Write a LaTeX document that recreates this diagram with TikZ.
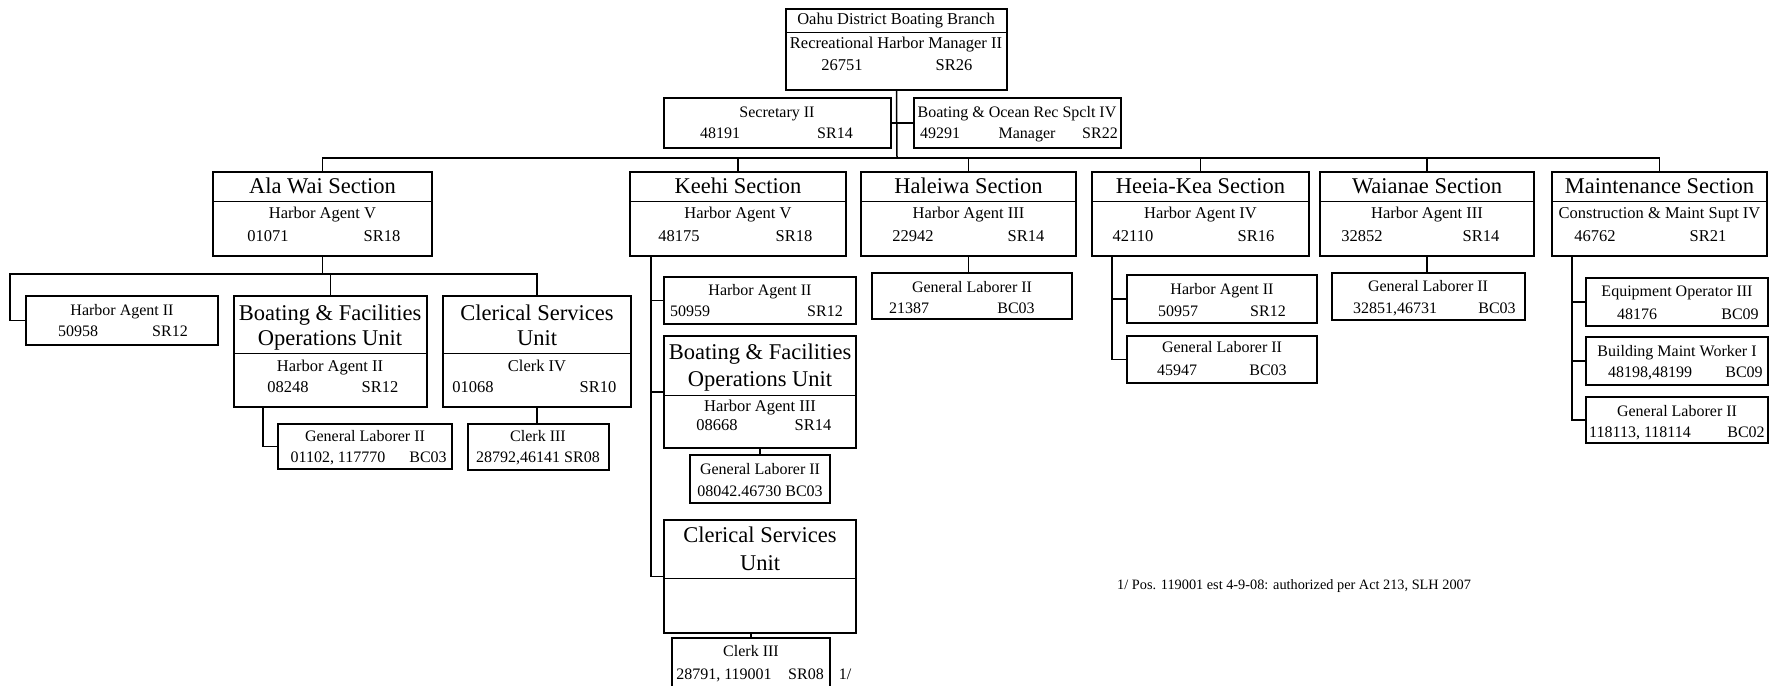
\documentclass[tikz,border=0pt]{standalone}
\usepackage{fontspec}
\setmainfont{Liberation Serif}
\tikzset{
  box/.style={draw, line width=1.8pt, inner sep=0pt, outer sep=0pt},
  conn/.style={line width=1.5pt},
  sepline/.style={line width=1pt},
  tl/.style={font=\fontsize{22.5}{24}\selectfont, inner sep=0pt, text height=16pt, text depth=5pt},
  md/.style={font=\fontsize{16.5}{18}\selectfont, inner sep=0pt, text height=12pt, text depth=3.5pt},
  sm/.style={font=\fontsize{16}{18}\selectfont, inner sep=0pt, text height=11.5pt, text depth=3.5pt},
  fnote/.style={font=\fontsize{14.3}{16}\selectfont, inner sep=0pt, anchor=west}
}
\newcommand\bx[5]{\node[box, minimum width={#4-#2}, minimum height={#5-#3}] (#1) at ({(#2+#4)/2},{(#3+#5)/2}) {};}
\newcommand\sepl[2]{\draw[sepline] (#1.west |- 0,#2) -- (#1.east |- 0,#2);}
\begin{document}
\begin{tikzpicture}[x=1pt,y=-1pt]
\useasboundingbox (0,0) rectangle (1771,685);
\fill[white] (0,0) rectangle (1771,685);
\clip (0,0) rectangle (1771,685);

% ---------- top ----------
\bx{top}{786}{9}{1007}{90}
\sepl{top}{33}
\node[md] (top-a) at (896,20) {Oahu District Boating Branch};
\node[md] (top-b) at (896,44) {Recreational Harbor Manager II};
\node[md] (top-c) at (842,66) {26751};
\node[md] (top-d) at (954,66) {SR26};

\bx{sec}{664}{98}{891}{148}
\node[sm] (sec-a) at (777,113) {Secretary II};
\node[sm] (sec-b) at (720,134) {48191};
\node[sm] (sec-c) at (835,134) {SR14};

\bx{bor}{914}{98}{1121}{148}
\node[sm] (bor-a) at (1017,113) {Boating \& Ocean Rec Spclt IV};
\node[sm] (bor-b) at (940,134) {49291};
\node[sm] (bor-c) at (1027,134) {Manager};
\node[sm] (bor-d) at (1100,134) {SR22};

% ---------- sections ----------
\bx{aw}{213}{172}{432}{256}
\bx{kh}{630}{172}{846}{256}
\bx{hl}{861}{172}{1076}{256}
\bx{hk}{1092}{172}{1309}{256}
\bx{wn}{1320}{172}{1534}{256}
\bx{mt}{1552}{172}{1767}{256}
\foreach \n in {aw,kh,hl,hk,wn,mt} {\sepl{\n}{201}}

\node[tl] (aw-a) at (aw.north |- 0,188) {Ala Wai Section};
\node[md] (aw-b) at (aw.north |- 0,214) {Harbor Agent V};
\node[md] (aw-c) at (268,237) {01071};
\node[md] (aw-d) at (382,237) {SR18};

\node[tl] (kh-a) at (kh.north |- 0,188) {Keehi Section};
\node[md] (kh-b) at (kh.north |- 0,214) {Harbor Agent V};
\node[md] (kh-c) at (679,237) {48175};
\node[md] (kh-d) at (794,237) {SR18};

\node[tl] (hl-a) at (hl.north |- 0,188) {Haleiwa Section};
\node[md] (hl-b) at (hl.north |- 0,214) {Harbor Agent III};
\node[md] (hl-c) at (913,237) {22942};
\node[md] (hl-d) at (1026,237) {SR14};

\node[tl] (hk-a) at (hk.north |- 0,188) {Heeia-Kea Section};
\node[md] (hk-b) at (hk.north |- 0,214) {Harbor Agent IV};
\node[md] (hk-c) at (1133,237) {42110};
\node[md] (hk-d) at (1256,237) {SR16};

\node[tl] (wn-a) at (wn.north |- 0,188) {Waianae Section};
\node[md] (wn-b) at (wn.north |- 0,214) {Harbor Agent III};
\node[md] (wn-c) at (1362,237) {32852};
\node[md] (wn-d) at (1481,237) {SR14};

\node[tl] (mt-a) at (mt.north |- 0,188) {Maintenance Section};
\node[md] (mt-b) at (mt.north |- 0,214) {Construction \& Maint Supt IV};
\node[md] (mt-c) at (1595,237) {46762};
\node[md] (mt-d) at (1708,237) {SR21};

% ---------- Ala Wai subtree ----------
\bx{awha}{26}{296}{218}{345}
\node[sm] (awha-a) at (122,311) {Harbor Agent II};
\node[sm] (awha-b) at (78,332) {50958};
\node[sm] (awha-c) at (170,332) {SR12};

\bx{awbo}{234}{296}{427}{407}
\sepl{awbo}{353}
\node[tl] (awbo-a) at (330,315) {Boating \& Facilities};
\node[tl] (awbo-b) at (330,340) {Operations Unit};
\node[md] (awbo-c) at (330,367) {Harbor Agent II};
\node[md] (awbo-d) at (288,388) {08248};
\node[md] (awbo-e) at (380,388) {SR12};

\bx{awcl}{443}{296}{631}{407}
\sepl{awcl}{353}
\node[tl] (awcl-a) at (537,315) {Clerical Services};
\node[tl] (awcl-b) at (537,340) {Unit};
\node[md] (awcl-c) at (537,367) {Clerk IV};
\node[md] (awcl-d) at (473,388) {01068};
\node[md] (awcl-e) at (598,388) {SR10};

\bx{awgl}{278}{424}{452}{469}
\node[sm] (awgl-a) at (365,437) {General Laborer II};
\node[sm] (awgl-b) at (338,458) {01102, 117770};
\node[sm] (awgl-c) at (428,458) {BC03};

\bx{awc3}{468}{424}{609}{470}
\node[sm] (awc3-a) at (538,437) {Clerk III};
\node[sm] (awc3-b) at (538,458) {28792,46141 SR08};

\coordinate (awL) at (10,274);
\draw[conn] (aw.south) -- (aw.south |- awL);
\draw[conn] (awha.west) -| (awL) -| (awcl.north);
\draw[conn] (awbo.north) -- (awbo.north |- awL);
\coordinate (awglc) at (263,407);
\draw[conn] (awglc) |- (awgl.west);
\draw[conn] (awcl.south) -- (awcl.south |- awc3.north);

% ---------- Keehi subtree ----------
\bx{khha}{664}{277}{856}{324}
\node[sm] (khha-a) at (760,291) {Harbor Agent II};
\node[sm] (khha-b) at (690,312) {50959};
\node[sm] (khha-c) at (825,312) {SR12};

\bx{khbo}{664}{336}{856}{448}
\sepl{khbo}{395}
\node[tl] (khbo-a) at (760,354) {Boating \& Facilities};
\node[tl] (khbo-b) at (760,381) {Operations Unit};
\node[md] (khbo-c) at (760,407) {Harbor Agent III};
\node[md] (khbo-d) at (717,426) {08668};
\node[md] (khbo-e) at (813,426) {SR14};

\bx{khgl}{690}{455}{830}{503}
\node[sm] (khgl-a) at (760,470) {General Laborer II};
\node[sm] (khgl-b) at (760,492) {08042.46730 BC03};

\bx{khcl}{664}{520}{856}{633}
\sepl{khcl}{578}
\node[tl] (khcl-a) at (760,537) {Clerical Services};
\node[tl] (khcl-b) at (760,565) {Unit};

\bx{khc3}{672}{638}{830}{695}
\node[sm] (khc3-a) at (751,652) {Clerk III};
\node[sm] (khc3-b) at (724,675) {28791, 119001};
\node[sm] (khc3-c) at (806,675) {SR08};
\node[sm] (khc3-n) at (845,675) {1/};

\coordinate (khv) at (651,256);
\draw[conn] (khv) |- (khcl.west);
\draw[conn] (khha.west) -- (khha.west -| khv);
\draw[conn] (khbo.west) -- (khbo.west -| khv);
\draw[conn] (khgl.north) -- (khgl.north |- khbo.south);
\draw[conn] (khc3.north) -- (khc3.north |- khcl.south);

% ---------- Haleiwa ----------
\bx{hlgl}{872}{273}{1072}{319}
\node[sm] (hlgl-a) at (972,288) {General Laborer II};
\node[sm] (hlgl-b) at (909,309) {21387};
\node[sm] (hlgl-c) at (1016,309) {BC03};
\draw[conn] (hl.south) -- (hl.south |- hlgl.north);

% ---------- Heeia-Kea ----------
\bx{hkha}{1127}{275}{1317}{323}
\node[sm] (hkha-a) at (1222,290) {Harbor Agent II};
\node[sm] (hkha-b) at (1178,312) {50957};
\node[sm] (hkha-c) at (1268,312) {SR12};

\bx{hkgl}{1127}{336}{1317}{383}
\node[sm] (hkgl-a) at (1222,348) {General Laborer II};
\node[sm] (hkgl-b) at (1177,371) {45947};
\node[sm] (hkgl-c) at (1268,371) {BC03};

\coordinate (hkv) at (1112,256);
\draw[conn] (hkv) |- (hkgl.west);
\draw[conn] (hkha.west) -- (hkha.west -| hkv);

% ---------- Waianae ----------
\bx{wngl}{1332}{273}{1525}{320}
\node[sm] (wngl-a) at (1428,287) {General Laborer II};
\node[sm] (wngl-b) at (1395,309) {32851,46731};
\node[sm] (wngl-c) at (1497,309) {BC03};
\draw[conn] (wn.south) -- (wn.south |- wngl.north);

% ---------- Maintenance ----------
\bx{mteo}{1586}{278}{1768}{326}
\node[sm] (mteo-a) at (1677,292) {Equipment Operator III};
\node[sm] (mteo-b) at (1637,315) {48176};
\node[sm] (mteo-c) at (1740,315) {BC09};

\bx{mtbm}{1586}{337}{1768}{385}
\node[sm] (mtbm-a) at (1677,352) {Building Maint Worker I};
\node[sm] (mtbm-b) at (1650,373) {48198,48199};
\node[sm] (mtbm-c) at (1744,373) {BC09};

\bx{mtgl}{1586}{397}{1768}{443}
\node[sm] (mtgl-a) at (1677,412) {General Laborer II};
\node[sm] (mtgl-b) at (1640,433) {118113, 118114};
\node[sm] (mtgl-c) at (1746,433) {BC02};

\coordinate (mtv) at (1572,256);
\draw[conn] (mtv) |- (mtgl.west);
\draw[conn] (mteo.west) -- (mteo.west -| mtv);
\draw[conn] (mtbm.west) -- (mtbm.west -| mtv);

% ---------- top connectors ----------
\coordinate (bus) at (897,158);
\draw[conn] (top.south) -- (bus);
\draw[conn] (sec.east) -- (bor.west);
\draw[conn] (aw.north) |- (bus) -| (mt.north);
\foreach \n in {kh,hl,hk,wn} {\draw[conn] (\n.north) -- (\n.north |- bus);}

% ---------- footnote ----------
\node[fnote] (fn) at (1117,586) {1/ Pos. 119001 est 4-9-08: authorized per Act 213, SLH 2007};
\end{tikzpicture}
\end{document}
